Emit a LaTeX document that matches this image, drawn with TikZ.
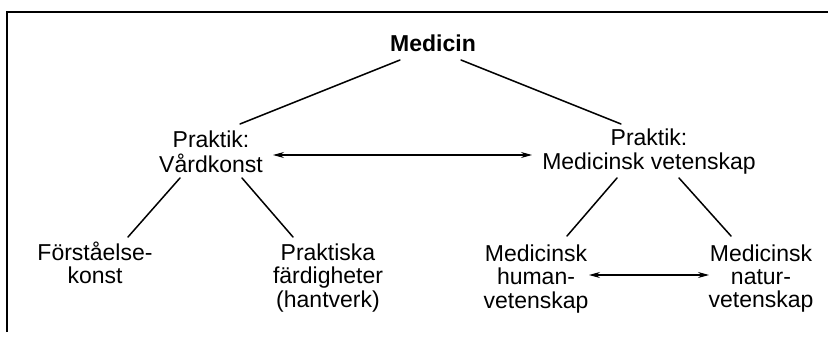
\documentclass[tikz,border=0pt]{standalone}
\usepackage{fontspec}
\setmainfont{Liberation Sans}
\usetikzlibrary{arrows.meta,calc}
\tikzset{
  lbl/.style={anchor=base, inner sep=0pt, font=\fontsize{23}{23}\selectfont},
  conn/.style={line width=1.5pt, line cap=round},
  biarrow/.style={line width=1.1pt, {Stealth[length=11pt,width=6pt]}-{Stealth[length=11pt,width=6pt]}},
  frame/.style={line width=1.1pt}
}
\newcommand{\ml}[1]{\begin{tabular}[t]{@{}c@{}}#1\end{tabular}}
\begin{document}
\begin{tikzpicture}[x=1pt,y=-1pt]
\useasboundingbox (0,0) rectangle (828,337);
% frame
\coordinate (ftl) at (7,12);
\coordinate (ftr) at (828,12);
\coordinate (fbl) at (7,332);
\draw[frame] (fbl) -- (ftl) -- (ftr);
% nodes
\node[lbl, font=\fontsize{23}{23}\selectfont\bfseries] (med) at (433,52) {Medicin};
\node[lbl] (vard) at (211,147) {\ml{Praktik:\\Vårdkonst}};
\node[lbl] (mvet) at (649,146) {\ml{Praktik:\\Medicinsk vetenskap}};
\node[lbl] (forst) at (95,260) {\ml{Förståelse-\\konst}};
\node[lbl] (prakt) at (328,260) {\ml{Praktiska\\färdigheter\\(hantverk)}};
\node[lbl] (human) at (536,261) {\ml{Medicinsk\\human-\\vetenskap}};
\node[lbl] (natur) at (761,261) {\ml{Medicinsk\\natur-\\vetenskap}};
% connectors
\draw[conn] ($(med.base)+(-33,8)$) -- ($(vard.base)+(29,-23)$);
\draw[conn] ($(med.base)+(28,8)$) -- ($(mvet.base)+(-28,-22)$);
\draw[conn] ($(vard.base)+(-31,31)$) -- ($(forst.base)+(33,-23)$);
\draw[conn] ($(vard.base)+(31,31)$) -- ($(prakt.base)+(-35,-23)$);
\draw[conn] ($(mvet.base)+(-32,32)$) -- ($(human.base)+(31,-25)$);
\draw[conn] ($(mvet.base)+(30,32)$) -- ($(natur.base)+(-30,-25)$);
\draw[biarrow] ($(vard.base)+(62,8)$) -- ($(mvet.base)+(-117,9)$);
\draw[biarrow] ($(human.base)+(53,14)$) -- ($(natur.base)+(-52,14)$);
\end{tikzpicture}
\end{document}
